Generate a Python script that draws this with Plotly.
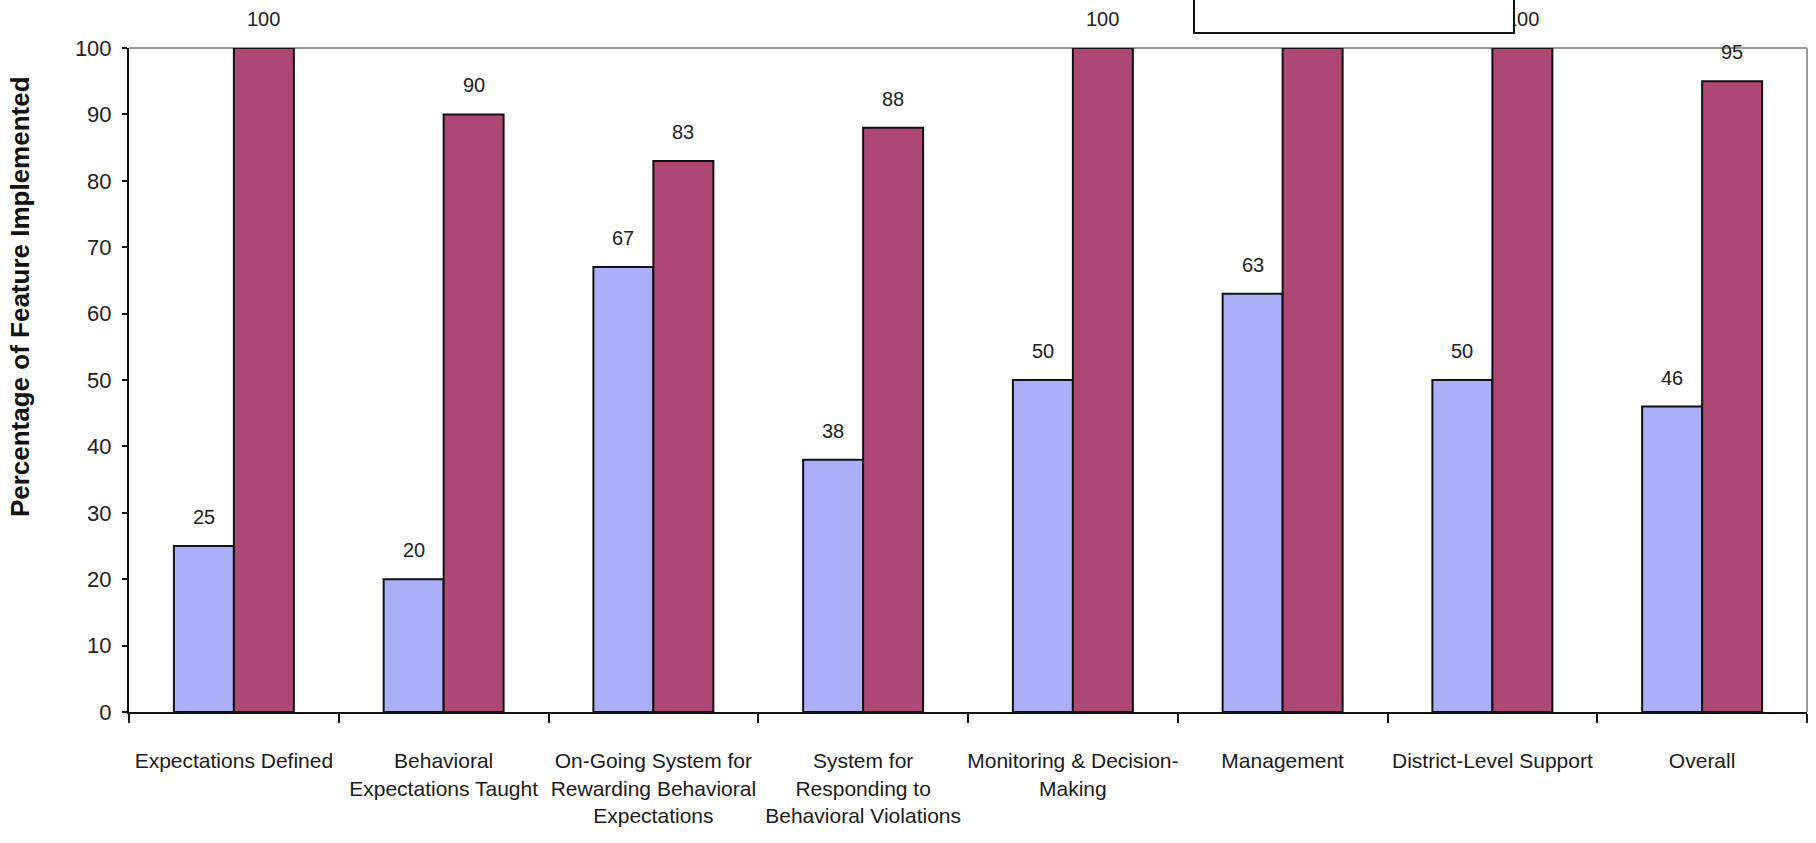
import plotly.graph_objects as go

categories = [
    "Expectations Defined",
    "Behavioral<br>Expectations Taught",
    "On-Going System for<br>Rewarding Behavioral<br>Expectations",
    "System for<br>Responding to<br>Behavioral Violations",
    "Monitoring & Decision-<br>Making",
    "Management",
    "District-Level Support",
    "Overall",
]
series_a = [25, 20, 67, 38, 50, 63, 50, 46]
series_b = [100, 90, 83, 88, 100, 100, 100, 95]
y_ticks = [0, 10, 20, 30, 40, 50, 60, 70, 80, 90, 100]

BLUE = "#AAAFF8"
MAROON = "#AC4873"
FONT = "Liberation Sans, Arial, sans-serif"

fig = go.Figure()
fig.add_trace(go.Bar(x=categories, y=series_a, name="Series 1", marker=dict(color=BLUE, line=dict(color="#111111", width=2))))
fig.add_trace(go.Bar(x=categories, y=series_b, name="Series 2", marker=dict(color=MAROON, line=dict(color="#111111", width=2))))

annotations = []
for cat, a, b in zip(categories, series_a, series_b):
    annotations.append(dict(x=cat, y=a, text=str(a), showarrow=False, xref="x", yref="y",
                            xanchor="center", yanchor="bottom", xshift=-30, yshift=16,
                            font=dict(family=FONT, size=20, color="#222222")))
    annotations.append(dict(x=cat, y=b, text=str(b), showarrow=False, xref="x", yref="y",
                            xanchor="center", yanchor="bottom", xshift=30, yshift=16,
                            font=dict(family=FONT, size=20, color="#222222")))

annotations.append(dict(x=-0.0649, y=0.625, xref="paper", yref="paper", text="<b>Percentage of Feature Implemented</b>",
                        textangle=-90, showarrow=False, xanchor="center", yanchor="middle",
                        font=dict(family=FONT, size=26, color="#111111")))

# legend box (its content lies above the visible page); drawn last so it covers labels beneath
annotations.append(dict(x=0.6343, y=1.0211, xref="paper", yref="paper", text=" ", showarrow=False,
                        xanchor="left", yanchor="bottom", width=318, height=80, borderpad=0,
                        bgcolor="white", bordercolor="#111111", borderwidth=2))

shapes = [
    dict(type="line", xref="paper", yref="paper", x0=0, x1=1, y0=1, y1=1, line=dict(color="#999999", width=2), layer="below"),
    dict(type="line", xref="paper", yref="paper", x0=1, x1=1, y0=0, y1=1, line=dict(color="#999999", width=2), layer="below"),
]

fig.update_layout(
    width=1816, height=843,
    margin=dict(l=129, r=9, t=48, b=131, autoexpand=False),
    paper_bgcolor="white", plot_bgcolor="white",
    barmode="group", bargap=0.428, bargroupgap=0,
    showlegend=False,
    font=dict(family=FONT, color="#222222"),
    annotations=annotations,
    shapes=shapes,
    xaxis=dict(
        type="category", tickson="boundaries", ticks="outside", ticklen=9, tickwidth=2, tickcolor="#111111",
        showline=True, linecolor="#111111", linewidth=2, showgrid=False, tickangle=0, automargin=False,
        tickfont=dict(family=FONT, size=21, color="#1a1a1a"), ticklabelstandoff=29,
    ),
    yaxis=dict(
        range=[0, 100], tickvals=y_ticks, ticks="outside", ticklen=5, tickwidth=2, tickcolor="#111111",
        showline=True, linecolor="#111111", linewidth=2, showgrid=False, zeroline=False, automargin=False,
        tickfont=dict(family=FONT, size=22, color="#222222"), ticklabelstandoff=6,
    ),
)

fig.write_html("out.html")
